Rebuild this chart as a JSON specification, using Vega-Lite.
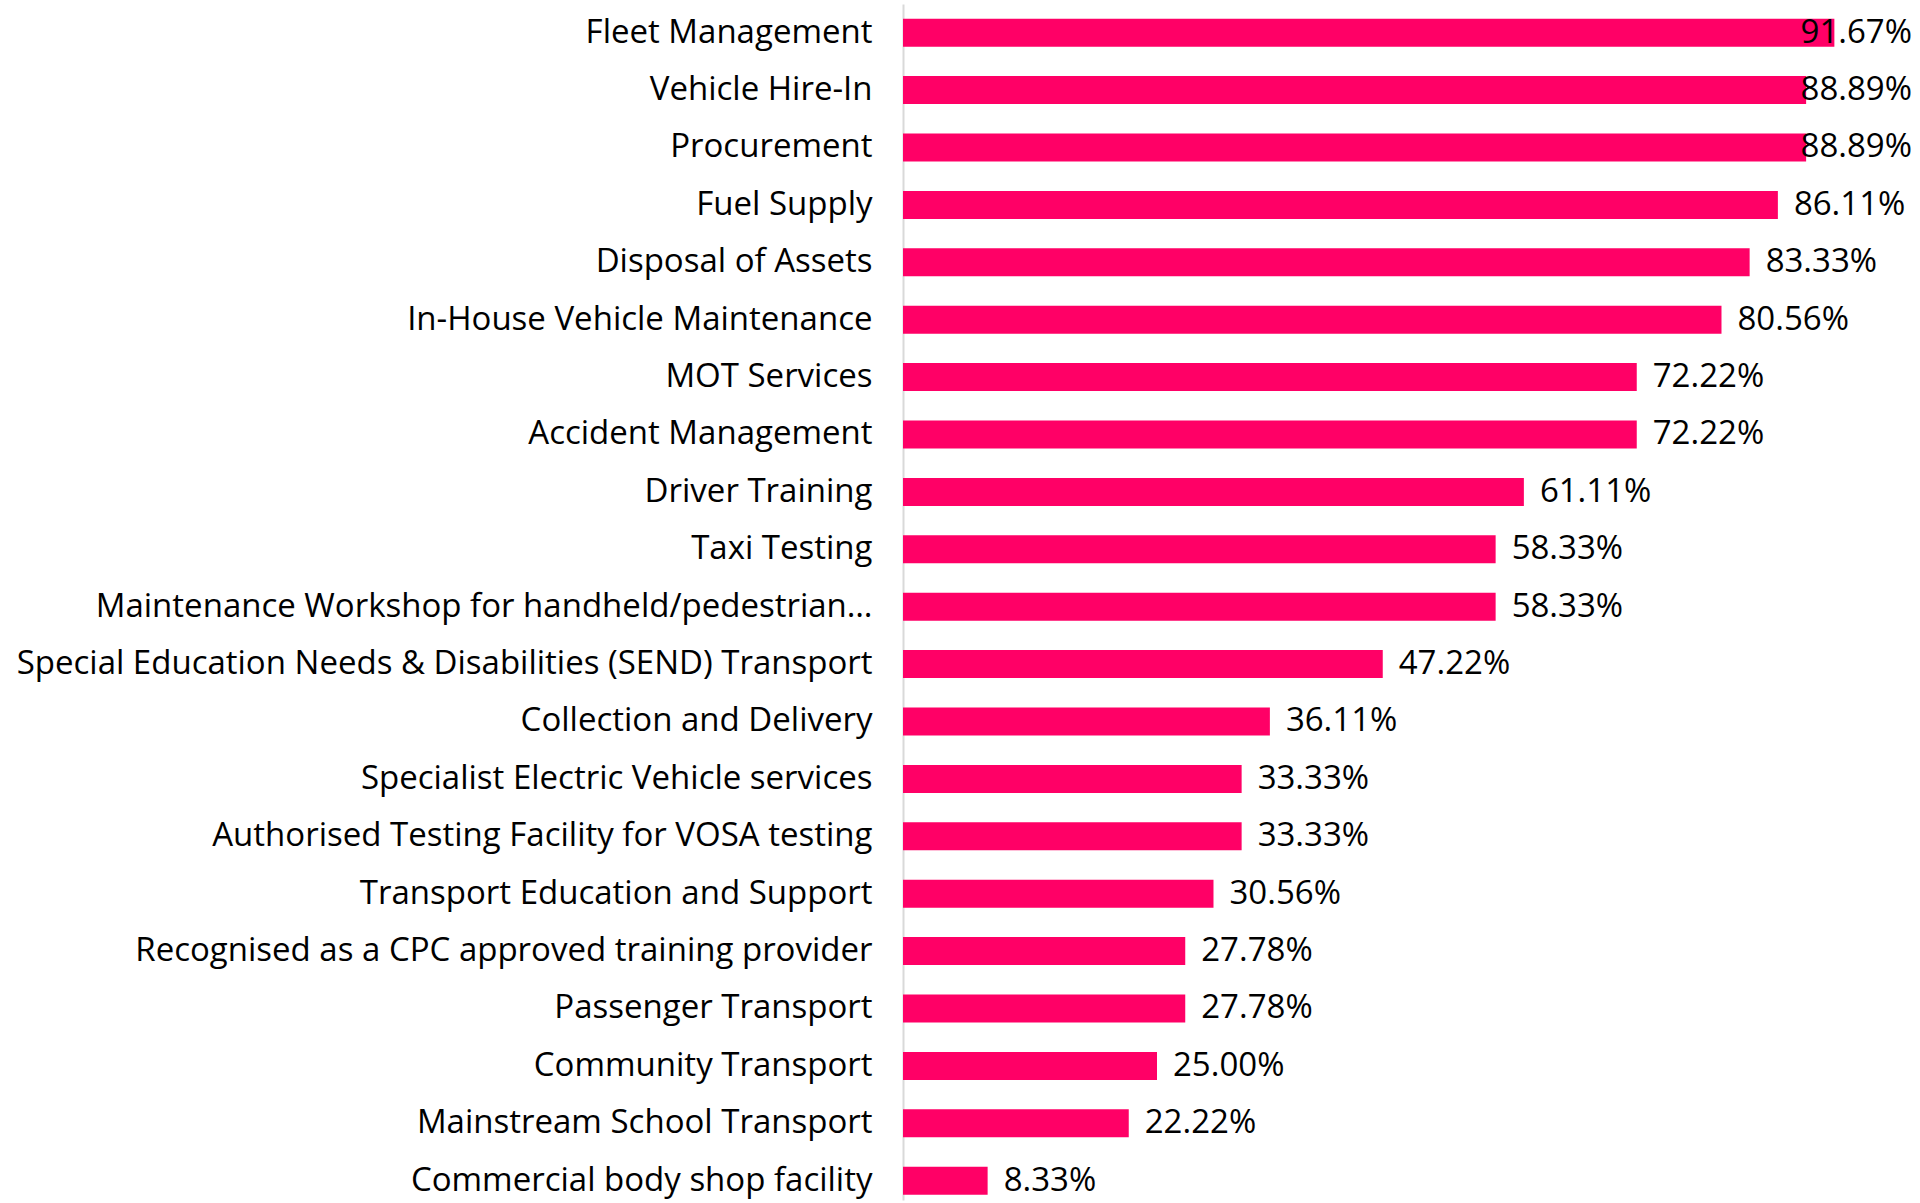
{
  "$schema": "https://vega.github.io/schema/vega-lite/v6.json",
  "width": 1016,
  "height": 1196,
  "autosize": {"type": "none"},
  "padding": {"left": 903, "top": 4, "right": 1, "bottom": 3},
  "background": "white",
  "config": {"view": {"stroke": null}},
  "data": {"values": [
    {"service": "Fleet Management", "value": 91.67},
    {"service": "Vehicle Hire-In", "value": 88.89},
    {"service": "Procurement", "value": 88.89},
    {"service": "Fuel Supply", "value": 86.11},
    {"service": "Disposal of Assets", "value": 83.33},
    {"service": "In-House Vehicle Maintenance", "value": 80.56},
    {"service": "MOT Services", "value": 72.22},
    {"service": "Accident Management", "value": 72.22},
    {"service": "Driver Training", "value": 61.11},
    {"service": "Taxi Testing", "value": 58.33},
    {"service": "Maintenance Workshop for handheld/pedestrian…", "value": 58.33},
    {"service": "Special Education Needs & Disabilities (SEND) Transport", "value": 47.22},
    {"service": "Collection and Delivery", "value": 36.11},
    {"service": "Specialist Electric Vehicle services", "value": 33.33},
    {"service": "Authorised Testing Facility for VOSA testing", "value": 33.33},
    {"service": "Transport Education and Support", "value": 30.56},
    {"service": "Recognised as a CPC approved training provider", "value": 27.78},
    {"service": "Passenger Transport", "value": 27.78},
    {"service": "Community Transport", "value": 25.00},
    {"service": "Mainstream School Transport", "value": 22.22},
    {"service": "Commercial body shop facility", "value": 8.33}
  ]},
  "transform": [{"calculate": "format(datum.value, '.2f') + '%'", "as": "label"}],
  "encoding": {
    "y": {
      "field": "service", "type": "nominal", "sort": null,
      "scale": {"paddingInner": 0.512, "paddingOuter": 0.174, "align": 0.735},
      "axis": {
        "title": null, "ticks": false, "grid": false,
        "domainColor": "#d9d9d9", "domainWidth": 2,
        "labelFont": "Open Sans", "labelFontSize": 33, "labelColor": "#000000",
        "labelPadding": 31, "labelLimit": 900
      }
    }
  },
  "layer": [
    {
      "mark": {"type": "bar", "color": "#FF0066"},
      "encoding": {
        "x": {"field": "value", "type": "quantitative", "scale": {"domain": [0, 100], "nice": false}, "axis": null}
      }
    },
    {
      "transform": [{"filter": "datum.value < 87"}],
      "mark": {"type": "text", "align": "left", "baseline": "middle", "dx": 16, "font": "Open Sans", "fontSize": 33, "color": "#000000"},
      "encoding": {
        "x": {"field": "value", "type": "quantitative"},
        "text": {"field": "label", "type": "nominal"}
      }
    },
    {
      "transform": [{"filter": "datum.value >= 87"}],
      "mark": {"type": "text", "align": "right", "baseline": "middle", "x": "width", "dx": -7, "font": "Open Sans", "fontSize": 33, "color": "#000000"},
      "encoding": {
        "text": {"field": "label", "type": "nominal"}
      }
    }
  ]
}
